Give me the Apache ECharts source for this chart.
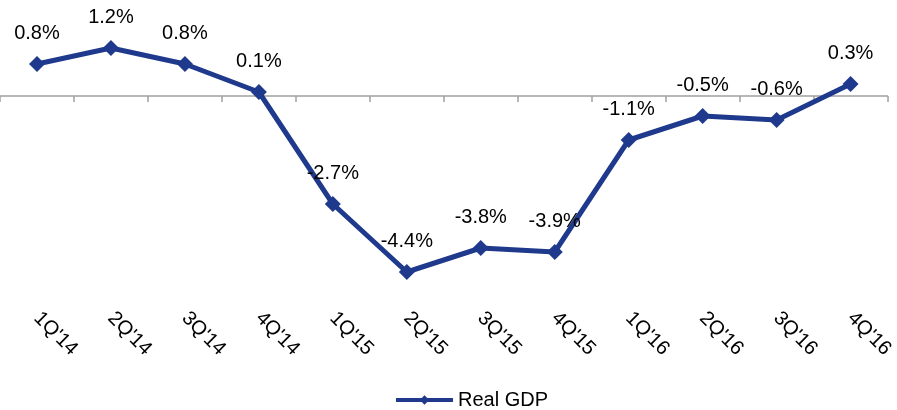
<!DOCTYPE html>
<html>
<head>
<meta charset="utf-8">
<script src="https://cdn.jsdelivr.net/npm/echarts@6/dist/echarts.min.js"></script>
<style>
  html, body { margin: 0; padding: 0; background: #fff; }
  #chart { width: 897px; height: 410px; }
</style>
</head>
<body>
<div id="chart"></div>
<script>
const quarters = ["1Q'14", "2Q'14", "3Q'14", "4Q'14", "1Q'15", "2Q'15", "3Q'15", "4Q'15", "1Q'16", "2Q'16", "3Q'16", "4Q'16"]
const realGdp = [0.8, 1.2, 0.8, 0.1, -2.7, -4.4, -3.8, -3.9, -1.1, -0.5, -0.6, 0.3]

const chart = echarts.init(document.getElementById('chart'))
const lineColor = '#1f3a8c'
const fontFamily = 'Liberation Sans, Arial, sans-serif'

const option = {
  animation: false,
  textStyle: { fontFamily: fontFamily },
  grid: {
    left: 0,
    right: 8,
    top: 16,
    height: 280
  },
  legend: {
    top: 385,
    left: 389,
    itemWidth: 57,
    itemHeight: 12,
    lineStyle: { width: 4 },
    textStyle: { fontSize: 20, color: '#000', fontFamily: fontFamily },
    data: ['Real GDP']
  },
  xAxis: [{
    type: 'category',
    data: quarters,
    position: 'bottom',
    axisLine: { show: false, onZero: false },
    axisTick: { show: false },
    axisLabel: {
      rotate: -45,
      margin: 19,
      fontSize: 20,
      color: '#000',
      fontFamily: fontFamily
    }
  }, {
    // the zero line with its tick marks
    type: 'category',
    data: quarters,
    position: 'top',
    axisLine: { show: true, onZero: true, lineStyle: { color: '#a0a0a0', width: 1.5 } },
    axisTick: { show: true, inside: true, length: 6, lineStyle: { color: '#a0a0a0', width: 1.5 } },
    axisLabel: { show: false }
  }],
  yAxis: {
    type: 'value',
    min: -5,
    max: 2,
    show: false,
    splitLine: { show: false }
  },
  series: [{
    name: 'Real GDP',
    type: 'line',
    data: realGdp,
    xAxisIndex: 0,
    symbol: 'diamond',
    symbolSize: 16,
    lineStyle: { color: lineColor, width: 5 },
    itemStyle: { color: lineColor },
    label: {
      show: true,
      position: 'top',
      distance: 13,
      fontSize: 20,
      color: '#000',
      fontFamily: fontFamily,
      formatter: function (p) { return p.value.toFixed(1) + '%' }
    }
  }]
}

chart.setOption(option)
window.onresize = () => {
  chart.resize()
}
</script>
</body>
</html>
